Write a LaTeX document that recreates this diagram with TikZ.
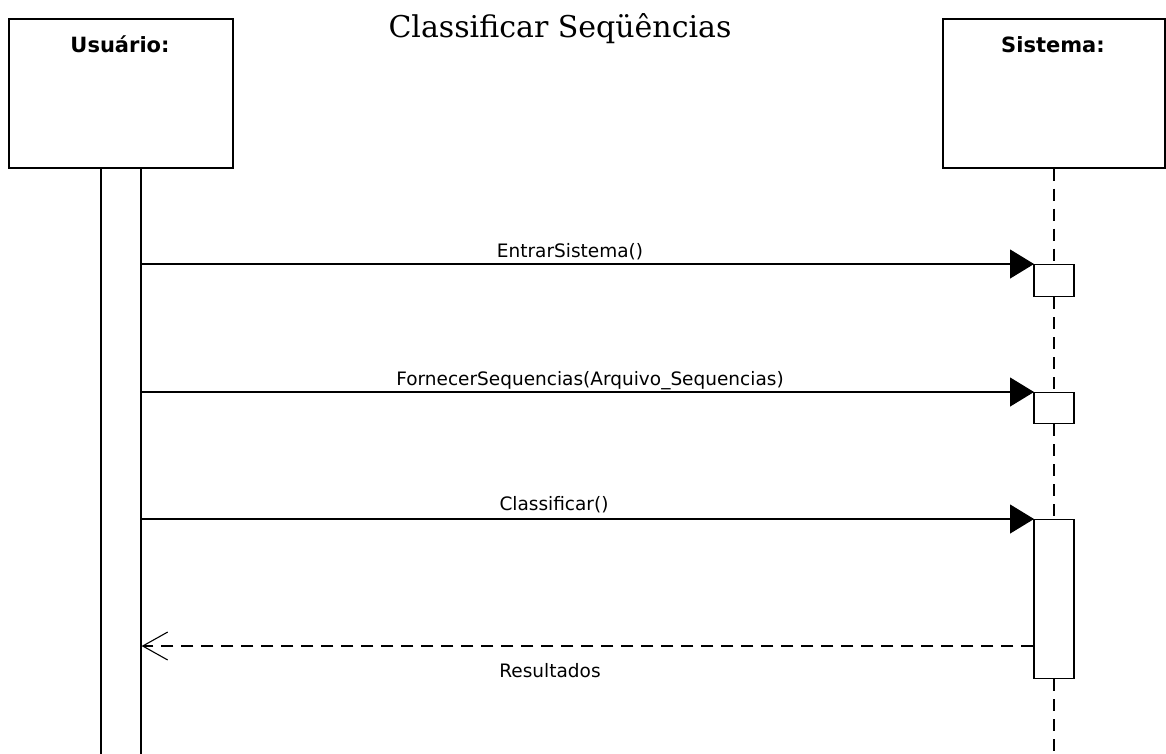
\documentclass[tikz,border=0pt]{standalone}
\usepackage{fontspec}
\setmainfont{DejaVu Serif}
\newfontfamily\uifont{DejaVu Sans}
\usetikzlibrary{arrows.meta}
\begin{document}
\begin{tikzpicture}[x=1pt,y=-1pt,
  line width=1.2pt,
  objbox/.style={draw, rectangle, inner sep=0pt},
  actbar/.style={draw, fill=white, rectangle, inner sep=0pt, minimum width=40pt},
  lifeline/.style={dash pattern=on 12pt off 8pt},
  callmsg/.style={-{Triangle[length=24pt,width=29pt]}, shorten >=-0.6pt},
  retmsg/.style={dash pattern=on 12pt off 8pt, -{Straight Barb[length=25pt,width=28pt,line width=1.1pt]}},
  msglabel/.style={font=\uifont\fontsize{18.5}{21}\selectfont, inner sep=0pt, anchor=base},
  objlabel/.style={font=\uifont\bfseries\fontsize{21}{24}\selectfont, inner sep=0pt, anchor=base}]
\useasboundingbox (0,0) rectangle (1166,753);
\clip (0,0) rectangle (1166,753);
\fill[white] (0,0) rectangle (1166,753);

% title
\node[font=\fontsize{30}{34}\selectfont, inner sep=0pt, anchor=base] (title) at (560,37) {Classificar Seqüências};

% objects
\node[objbox, minimum width=224pt, minimum height=149pt] (usr) at (121,93.5) {};
\node[objlabel] (usrname) at (120,52) {Usuário:};
\node[objbox, minimum width=222pt, minimum height=149pt] (sys) at (1054,93.5) {};
\node[objlabel] (sysname) at (1053,52) {Sistema:};

% user activation bar (runs past the bottom edge)
\node[actbar, anchor=north, minimum height=600pt] (ua) at (121,168) {};

% system activations
\node[actbar, anchor=north, minimum height=32pt] (a1) at (1054,264) {};
\node[actbar, anchor=north, minimum height=31pt] (a2) at (1054,392) {};
\node[actbar, anchor=north, minimum height=159pt] (a3) at (1054,519) {};
\coordinate (sysend) at (1054,760);

% system lifeline
\draw[lifeline] (sys.south) -- (a1.north);
\draw[lifeline] (a1.south) -- (a2.north);
\draw[lifeline] (a2.south) -- (a3.north);
\draw[lifeline] (a3.south) -- (sysend);

% messages
\draw[callmsg] (ua.east |- a1.north west) -- (a1.north west);
\node[msglabel] (m1) at (570,257) {EntrarSistema()};
\draw[callmsg] (ua.east |- a2.north west) -- (a2.north west);
\node[msglabel] (m2) at (590,385) {FornecerSequencias(Arquivo\_Sequencias)};
\draw[callmsg] (ua.east |- a3.north west) -- (a3.north west);
\node[msglabel] (m3) at (554,510) {Classificar()};
\coordinate (retsrc) at (a3.west |- 0,646);
\draw[retmsg] (retsrc) -- (ua.east |- retsrc);
\node[msglabel] (m4) at (550,677) {Resultados};
\end{tikzpicture}
\end{document}
